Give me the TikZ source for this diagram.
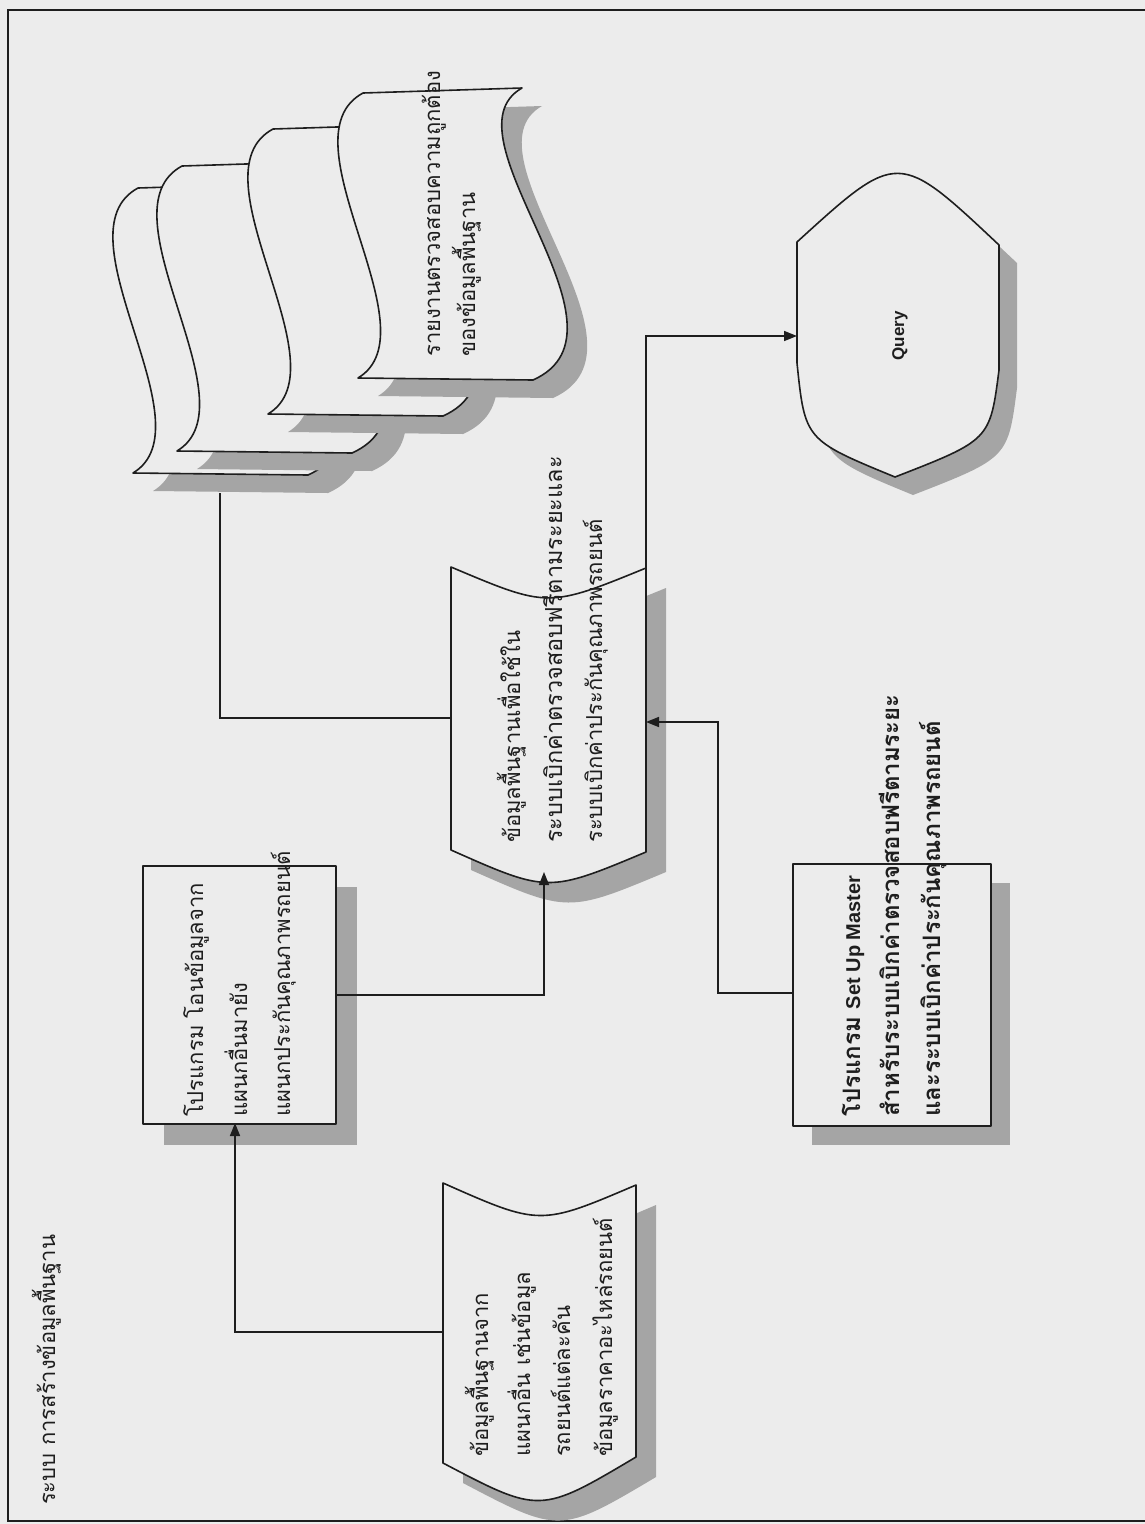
\documentclass[tikz,border=0pt]{standalone}
\usepackage{fontspec}
\usetikzlibrary{arrows.meta}
\newfontfamily\thaifont[Script=Thai]{Loma}
\newfontfamily\latinfont{Liberation Sans}
\definecolor{bg}{RGB}{236,236,236}
\definecolor{shd}{RGB}{165,165,165}
\definecolor{ink}{RGB}{30,30,30}
\tikzset{
  shapeline/.style={draw=ink, line width=1.6pt, fill=bg, line join=round},
  shadowfill/.style={fill=shd, draw=none},
  conn/.style={draw=ink, line width=1.6pt},
  arr/.style={conn, -{Triangle[length=13pt,width=10pt]}},
  vtext/.style={rotate=90, anchor=base west, inner sep=0pt, font=\thaifont\fontsize{22}{26}\selectfont, text=ink},
  btext/.style={vtext, font=\thaifont\bfseries\fontsize{24}{28}\selectfont},
  tapepath/.style={insert path={(363,93) -- (522,88) .. controls (439,135) and (645,330) .. (533,380) -- (358,378) .. controls (436,331) and (280,138) .. (363,93) -- cycle}},
}
\begin{document}
\begin{tikzpicture}[x=1pt,y=-1pt]
\fill[bg] (0,0) rectangle (1145,1524);
\useasboundingbox (0,0) rectangle (1145,1524);
% frame
\draw[ink, line width=2.5pt] (1150,10) -- (8,10) -- (8,1521) -- (1150,1521);

% title
\node[vtext] (title) at (55,1505) {ระบบ การสร้างข้อมูลพื้นฐาน};

% ---- stacked tapes (report)
\foreach \dx/\dy in {-225/95, -181/73, -90/36, 0/0} {
  \begin{scope}[shift={(\dx+20,\dy+18)}]
    \fill[shadowfill, tapepath];
  \end{scope}
  \begin{scope}[shift={(\dx,\dy)}]
    \path[shapeline, tapepath];
  \end{scope}
}
\coordinate (tb) at (220,493);
\node[vtext] (r1) at (440,357) {รายงานตรวจสอบความถูกต้อง};
\node[vtext] (r2) at (475,357) {ของข้อมูลพื้นฐาน};

% ---- Query (display)
\fill[shadowfill] (815,260) .. controls (916,168) .. (1017,263) -- (1017,388) .. controls (1008,458) .. (913,495) .. controls (823,458) .. (815,381) -- cycle;
\path[shapeline] (797,242) .. controls (898,150) .. (999,245) -- (999,370) .. controls (990,440) .. (895,477) .. controls (805,440) .. (797,363) -- cycle;
\node[rotate=90, inner sep=0pt, text=ink, font=\latinfont\bfseries\fontsize{17}{20}\selectfont] (q) at (900,336) {Query};
\coordinate (qw) at (797,336);

% ---- box 1 (stored data)
\fill[shadowfill] (463,1203) .. controls (560,1246) .. (656,1205) -- (656,1477) .. controls (560,1534) .. (463,1483) -- cycle;
\path[shapeline] (443,1183) .. controls (540,1226) .. (636,1185) -- (636,1457) .. controls (540,1514) .. (443,1463) -- cycle;
\coordinate (b1w) at (443,1332);
\node[vtext] (a1) at (488,1457) {ข้อมูลพื้นฐานจาก};
\node[vtext] (a2) at (530,1457) {แผนกอื่น เช่นข้อมูล};
\node[vtext] (a3) at (570,1457) {รถยนต์แต่ละคัน};
\node[vtext] (a4) at (612,1457) {ข้อมูลราคาอะไหล่รถยนต์};

% ---- box 2
\fill[shadowfill] (164,887) rectangle (357,1145);
\node[shapeline, minimum width=193pt, minimum height=258pt, inner sep=0pt, anchor=north west] (b2) at (142,865) {};
\coordinate (b2s) at (235,1123);
\coordinate (b2e) at (335,995);
\node[vtext] (c1) at (203,1117) {โปรแกรม โอนข้อมูลจาก};
\node[vtext] (c2) at (247,1117) {แผนกอื่นมายัง};
\node[vtext] (c3) at (290,1117) {แผนกประกันคุณภาพรถยนต์};

% ---- box 3 (stored data)
\fill[shadowfill] (471,587) .. controls (568,628) .. (666,588) -- (666,872) .. controls (568,913) .. (471,870) -- cycle;
\path[shapeline] (451,567) .. controls (548,608) .. (646,568) -- (646,852) .. controls (548,893) .. (451,850) -- cycle;
\coordinate (b3s) at (544,872);
\coordinate (b3w) at (451,718);
\coordinate (b3e) at (646,722);
\coordinate (b3ne) at (646,568);
\node[vtext] (d1) at (520,843) {ข้อมูลพื้นฐานเพื่อใช้ใน};
\node[vtext, font=\thaifont\fontsize{23.5}{28}\selectfont] (d2) at (562,843) {ระบบเบิกค่าตรวจสอบฟรีตามระยะและ};
\node[vtext] (d3) at (602,843) {ระบบเบิกค่าประกันคุณภาพรถยนต์};

% ---- box 4
\fill[shadowfill] (812,883) rectangle (1010,1145);
\node[shapeline, minimum width=198pt, minimum height=262pt, inner sep=0pt, anchor=north west] (b4) at (792,863) {};
\coordinate (b4w) at (792,993);
\coordinate (j4) at (718,993);
\node[btext] (e1) at (860,1117) {โปรแกรม {\latinfont\bfseries\fontsize{20}{24}\selectfont Set Up Master}};
\node[btext] (e2) at (899,1117) {สำหรับระบบเบิกค่าตรวจสอบฟรีตามระยะ};
\node[btext] (e3) at (940,1117) {และระบบเบิกค่าประกันคุณภาพรถยนต์};

% ---- connectors
\draw[arr] (b1w) -| (b2s);
\draw[arr] (b2e) -| (b3s);
\draw[arr] (b4w) -- (j4) |- (b3e);
\draw[conn] (b3w) -| (tb);
\draw[arr] (b3ne) |- (qw);
\end{tikzpicture}
\end{document}
